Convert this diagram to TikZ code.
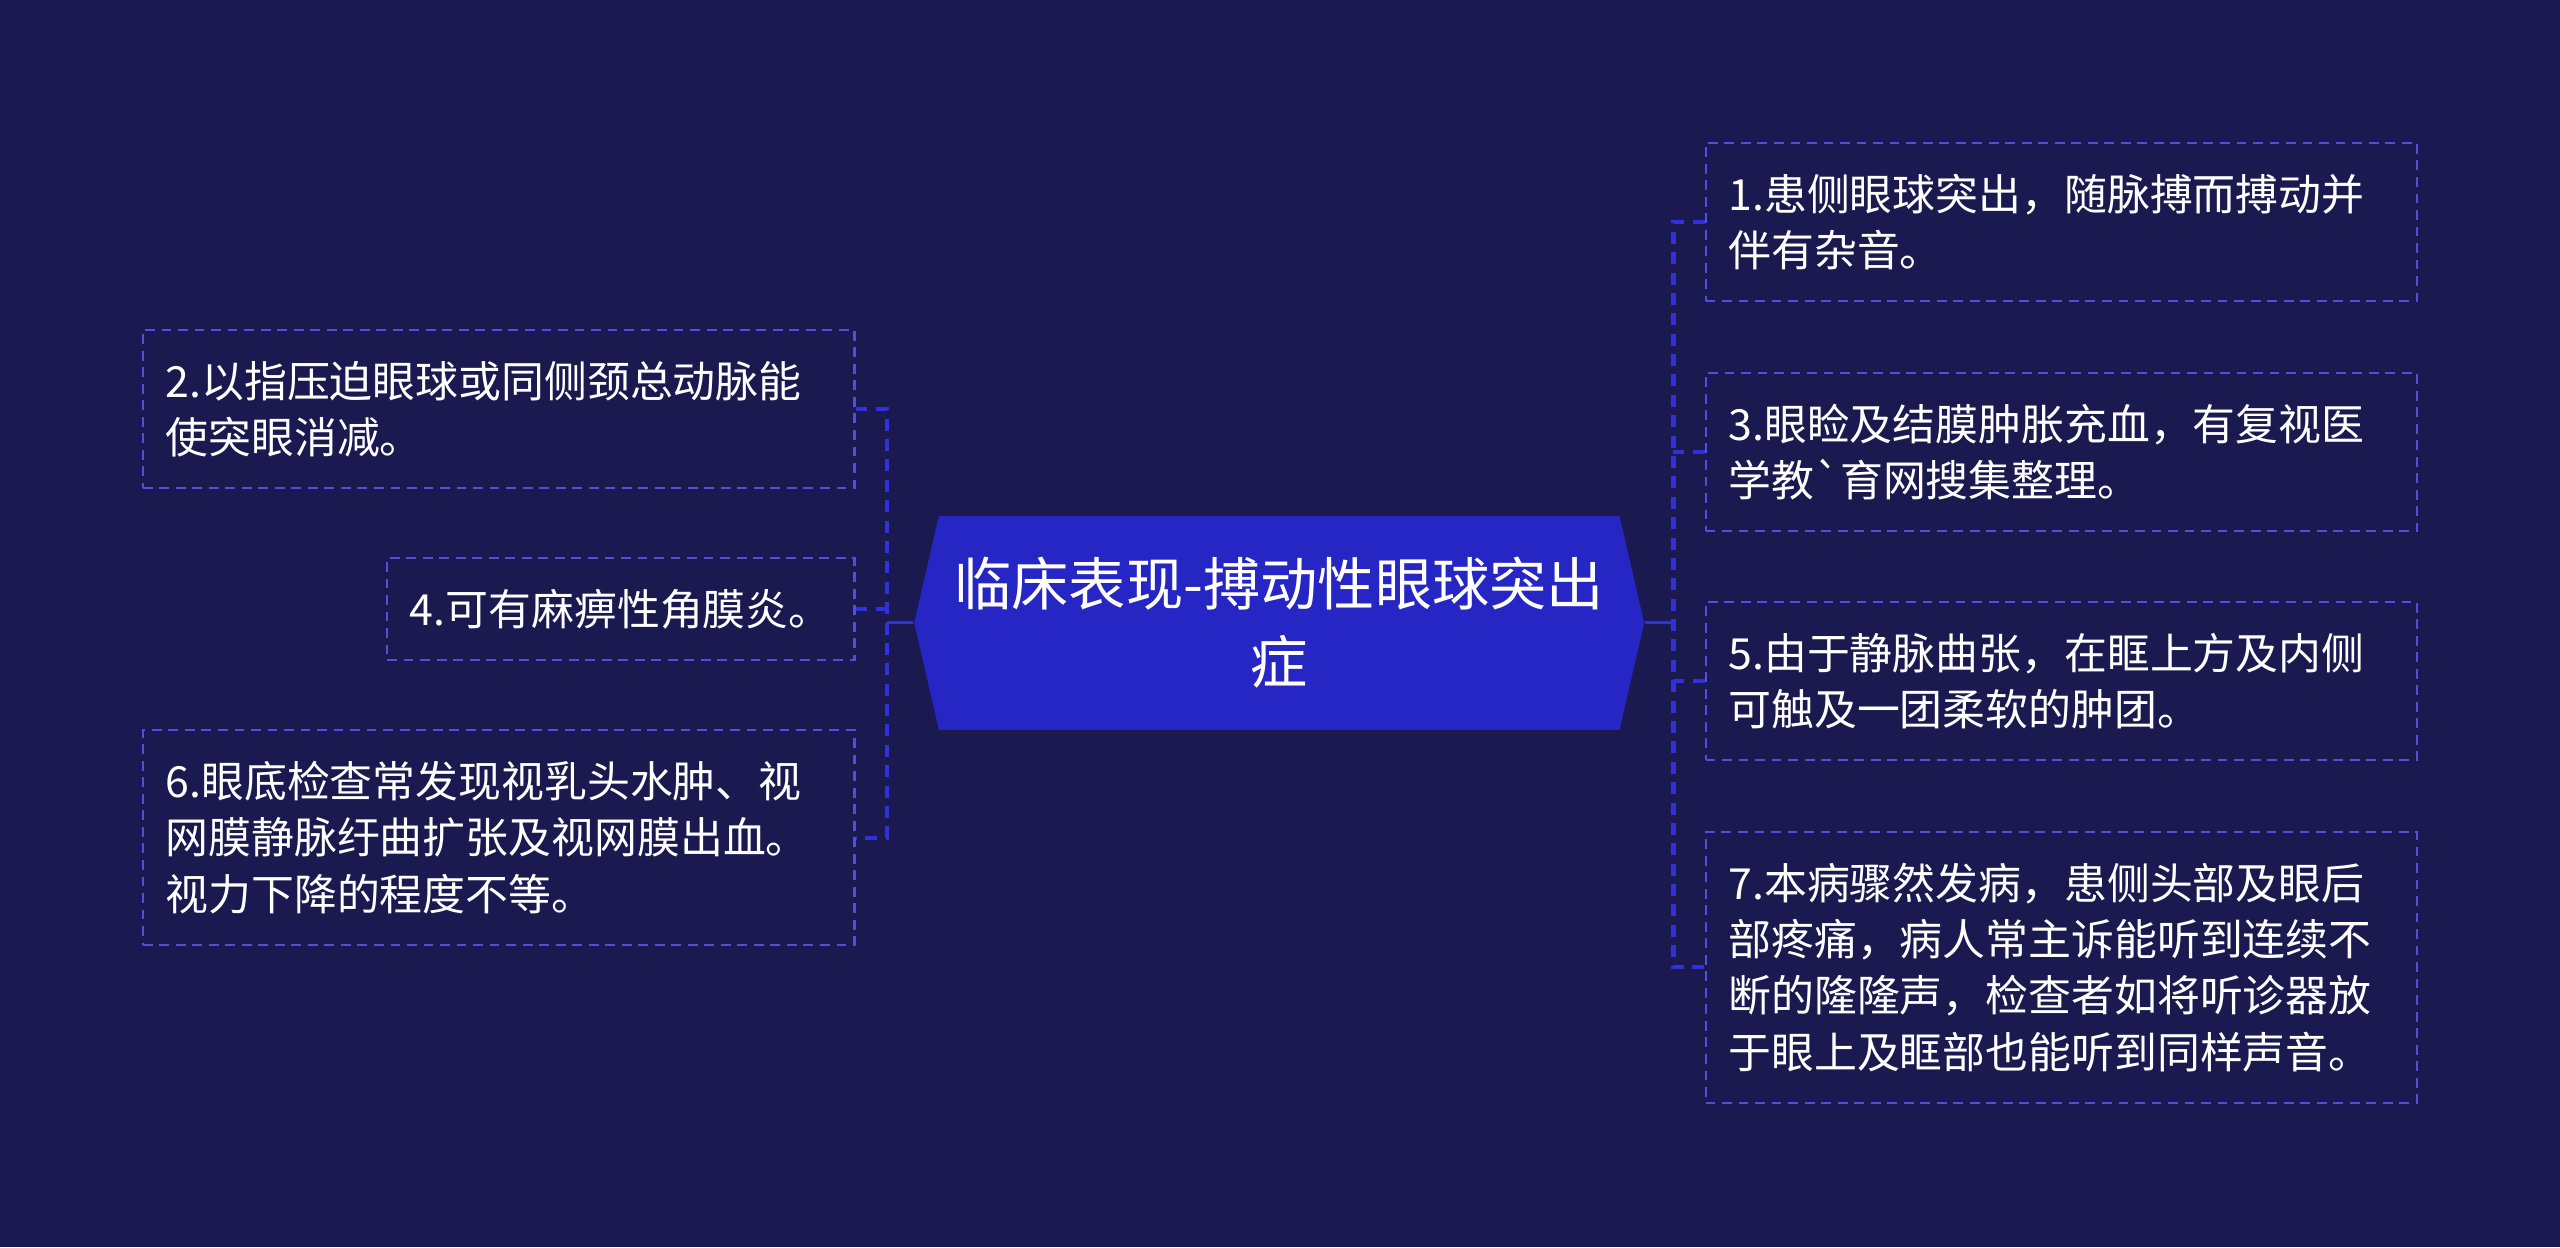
\documentclass[tikz,border=0pt]{standalone}
\usepackage{fontspec}
\setmainfont{Noto Sans CJK SC}
\usetikzlibrary{shapes.symbols}

\definecolor{page bg}{RGB}{26,25,80}
\definecolor{root fill}{RGB}{38,38,196}
\definecolor{link blue}{RGB}{48,48,220}
\colorlet{box edge}{link blue!85!white}
\tikzset{
  root/.style={signal, signal to=west and east, signal pointer angle=154,
    fill=root fill, text=white, align=center, inner sep=0pt,
    minimum width=7.3cm, minimum height=2.139cm,
    font=\fontsize{16.3}{22.2}\selectfont},
  leaf/.style={draw=box edge, line width=0.6pt, dash pattern=on 2.8pt off 1.9pt,
    text=white, align=left, inner xsep=0.2286cm, inner ysep=0.31cm,
    font=\fontsize{12.2}{16}\selectfont},
  wide leaf/.style={leaf, text width=6.66cm}
  }
\tikzstyle{stem} = [draw=link blue, line width=0.8pt]
\tikzstyle{link} = [draw=link blue, line width=1.15pt, dash pattern=on 3.4pt off 2.4pt]
\def\rightleaves{{(1044,136)/r1/{1.患侧眼球突出，随脉搏而搏动并\\伴有杂音。}},
  {(1044,277)/r3/{3.眼睑及结膜肿胀充血，有复视医\\学教\textasciigrave 育网搜集整理。}},
  {(1044,417)/r5/{5.由于静脉曲张，在眶上方及内侧\\可触及一团柔软的肿团。}},
  {(1044,592.5)/r7/{7.本病骤然发病，患侧头部及眼后\\部疼痛，病人常主诉能听到连续不\\断的隆隆声，检查者如将听诊器放\\于眼上及眶部也能听到同样声音。}}}
\def\leftleaves{{(524,250.5)/l2/{2.以指压迫眼球或同侧颈总动脉能\\使突眼消减。}},
  {(524,513)/l6/{6.眼底检查常发现视乳头水肿、视\\网膜静脉纡曲扩张及视网膜出血。\\视力下降的程度不等。}}}

\begin{document}
\begin{tikzpicture}[x=0.016327cm, y=-0.016327cm]

    % Page and its margins
    \fill[page bg] (0,0) rectangle (1568,764);
    \useasboundingbox (0,0) rectangle (1568,764);

    % The central topic
    \node[root] (root) at (783.5,381.5) {临床表现-搏动性眼球突出\\症};

    % the boxes on both sides
    \foreach \pos/\name/\txt in \rightleaves
      \node[wide leaf, anchor=west] (\name) at \pos {\txt};
    \foreach \pos/\name/\txt in \leftleaves
      \node[wide leaf, anchor=east] (\name) at \pos {\txt};
    \node[leaf, anchor=east] (l4) at (524,373) {4.可有麻痹性角膜炎。};

    % The hubs where the branches split
    \coordinate (lhub) at (543,381.5);
    \coordinate (rhub) at (1025,381.5);
    \path[stem] (root.west) -- (lhub);
    \path[stem] (root.east) -- (rhub);

    % The connections to the boxes
    \path[link] (l2.east) -| (lhub) |- (l6.east);
    \path[link] (l4.east) -- (l4.east -| lhub);
    \path[link] (r1.west) -| (rhub) |- (r7.west);
    \foreach \name in {r3, r5}
      \path[link] (\name.west) -- (\name.west -| rhub);

\end{tikzpicture}
\end{document}
